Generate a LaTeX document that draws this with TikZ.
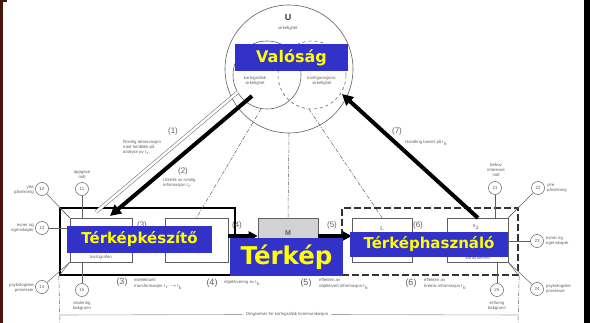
\documentclass[tikz,border=0pt]{standalone}
\usepackage{fontspec}
\setmainfont{Liberation Sans}
\newfontfamily\lblfont{DejaVu Sans}
\usetikzlibrary{arrows.meta}
\definecolor{lblblue}{RGB}{50,50,200}
\definecolor{lblyellow}{RGB}{255,255,0}
\definecolor{ink}{RGB}{95,95,95}
\definecolor{leftbar}{RGB}{70,22,12}
\begin{document}
\begin{tikzpicture}[x=1pt,y=-1pt,
  tiny/.style={font=\fontsize{4.3}{5.2}\selectfont, text=ink, inner sep=0},
  tinyb/.style={font=\fontsize{4.3}{6}\selectfont, text=ink, inner sep=0, align=left, anchor=north west},
  num/.style={font=\fontsize{8}{8}\selectfont, text=ink, inner sep=0},
  numb/.style={font=\fontsize{9}{9}\selectfont, text=ink, inner sep=0},
  numc/.style={circle, draw=ink, line width=0.5pt, minimum size=13pt, inner sep=0, font=\fontsize{4.5}{5}\selectfont, text=ink},
  box/.style={draw=ink, line width=0.6pt, minimum width=#1, minimum height=44pt, inner sep=0},
  thin line/.style={draw=ink, line width=0.5pt},
  dashdot line/.style={draw=ink, line width=0.5pt, dash pattern=on 4pt off 1.5pt on 1pt off 1.5pt},
  big arrow/.style={line width=4pt, -{Triangle[length=11pt,width=11pt]}},
  mid arrow/.style={line width=3.5pt, -{Triangle[length=9pt,width=9pt]}},
  lbl/.style={fill=lblblue, text=lblyellow, inner sep=0, font=\lblfont\bfseries\fontsize{#1}{#1}\selectfont}
]
\path[use as bounding box] (0,0) rectangle (590,323);
% frame strips
\fill[leftbar] (0,0) rectangle (2.5,323);
\fill[leftbar] (0,0) rectangle (7,1.8);
\fill[black] (584,0) rectangle (590,323);

% reality circles
\node[circle, draw=ink, line width=0.6pt, minimum size=128pt, inner sep=0] (U) at (289,69) {};
\node[circle, draw=ink, line width=0.6pt, minimum size=68pt, inner sep=0] (Ul) at (267,75) {};
\node[circle, draw=ink, dashed, line width=0.6pt, minimum size=68pt, inner sep=0] (Ur) at (312,75) {};
\node[font=\bfseries\fontsize{9}{9}\selectfont, text=ink!60!black] (Ut) at (288,17) {U};
\node[tiny] (Uv) at (288,28) {virkelighet};
\node[tiny, align=center] (Ult) at (255,81) {kartografisk\\virkelighet};
\node[tiny, align=center] (Urt) at (322,81) {konfigurasjons-\\virkelighet};

% group frames
\node[draw=black, line width=2.4pt, minimum width=175pt, minimum height=67pt, inner sep=0] (K) at (147.5,241.5) {};
\node[draw=black!80, line width=2.4pt, dash pattern=on 7pt off 3pt, minimum width=176pt, minimum height=67pt, inner sep=0] (H) at (430,241.5) {};

% inner boxes
\node[box=62] (S1) at (101,240) {};
\node[box=63] (B2) at (196.5,240) {};
\node[box=60, fill=gray!35] (M) at (288,240) {};
\node[box=60] (L) at (382,240) {};
\node[box=61] (S2) at (477.5,240) {};
\draw[thin line] (K.north west) -- (S1.north west);
\draw[thin line] (K.south west) -- (S1.south west);
\draw[thin line] (H.north east) -- (S2.north east);
\draw[thin line] (H.south east) -- (S2.south east);
\node[tiny] (S1t) at (101,257) {kartografen};
\node[tiny] (S2t) at (478,258) {kartbrukeren};
\node[tiny] (S2s) at (476,227) {S$_2$};
\node[font=\bfseries\fontsize{7}{7}\selectfont, text=ink] (Mt) at (288,233) {M};
\node[font=\fontsize{6}{6}\selectfont, text=ink] (Lt) at (382,228) {L};

% dashed fan lines
\draw[dashdot line] (Ul.-100) -- (B2.north);
\draw[dashdot line] (U.south) -- (M.north);
\draw[dashdot line] (Ur.-95) -- (L.north);

% map arrows
\draw[mid arrow] ([yshift=4pt]B2.east) -- ([yshift=4pt]M.west);
\draw[mid arrow] ([yshift=4pt]M.east) -- ([yshift=4pt]L.west);
\node[num] (p3t) at (142,225) {(3)};
\node[num] (p4t) at (237,225) {(4)};
\node[num] (p5t) at (332,225) {(5)};
\node[num] (p6t) at (418,225) {(6)};

% big arrows
\coordinate (a1s) at (238,92);
\coordinate (a1e) at (96,212);
\draw[draw=ink, line width=0.5pt, double=white, double distance=2.5pt] (a1s) -- (a1e);
\coordinate (a2s) at (252,96);
\coordinate (a2e) at (110,216);
\draw[big arrow] (a2s) -- (a2e);
\coordinate (a7s) at (478,218);
\coordinate (a7e) at (342,94);
\draw[big arrow] (a7s) -- (a7e);

% arrow labels
\node[num] (l1) at (173,131) {(1)};
\node[tiny, align=left, anchor=north west] (t1) at (123,140) {Romlig observasjon\\med henblikk på\\analyse av I$_r$};
\node[num] (l2) at (183,171) {(2)};
\node[tiny, align=left, anchor=north west] (t2) at (163,178) {Uttrekk av romlig\\informasjon I$_r$};
\node[num] (l7) at (397,131) {(7)};
\node[tiny, anchor=west] (t7) at (405,143) {Handling basert på I$_k$};

% bottom labels
\node[numb] (b3) at (122,282) {(3)};
\node[tinyb] (b3t) at (134,278.5) {intellektuell\\transformasjon I$_r$\,$\to$\,I$_k$};
\node[numb] (b4) at (212,283) {(4)};
\node[tiny, anchor=west] (b4t) at (224,283) {objektivering av I$_k$};
\node[numb] (b5) at (306,283) {(5)};
\node[tinyb] (b5t) at (319,278.5) {effekten av\\objektivert informasjon I$_k$};
\node[numb] (b6) at (411,283) {(6)};
\node[tinyb] (b6t) at (424,278.5) {effekten av\\kreativ informasjon I$_k$};

% environment frame
\coordinate (eL) at (60,323);
\coordinate (eR) at (518,323);
\coordinate (hL) at (60,315);
\coordinate (hR) at (518,315);
\draw[dashdot line] (K.south west) -- (eL);
\draw[dashdot line] (H.south east) -- (eR);
\node[tiny, fill=white, inner xsep=3pt, inner ysep=1pt] (env) at (287,314.5) {Omgivelser for kartografisk kommunikasjon};
\draw[draw=gray!70, line width=0.6pt] (hL) -- (env.west);
\draw[draw=gray!70, line width=0.6pt] (env.east) -- (hR);

% numbered factors, cartographer
\node[numc] (n12) at (42,189) {12};
\node[tiny, align=right, anchor=east] (n12t) at (34,190) {ytre\\påvirkning};
\node[numc] (n11) at (82,189) {11};
\node[tiny, align=center] (n11t) at (82,175) {oppgave\\mål};
\node[numc] (n13) at (42,228) {13};
\node[tiny, align=right, anchor=east] (n13t) at (34,228) {evner og\\egenskaper};
\node[numc] (n14) at (42,287) {14};
\node[tiny, align=right, anchor=east] (n14t) at (34,288) {psykologiske\\prosesser};
\node[numc] (n15) at (82,290) {15};
\node[tiny, align=center] (n15t) at (82,306) {skolering\\bakgrunn};
\draw[thin line] (n12) -- (S1.north west);
\draw[thin line] (n11) -- (n11 |- S1.north);
\draw[thin line] (n13) -- (n13 -| S1.west);
\draw[thin line] (n14) -- (S1.south west);
\draw[thin line] (n15) -- (n15 |- S1.south);

% numbered factors, map user
\node[numc] (n21) at (495,188) {21};
\node[tiny, align=center] (n21t) at (496,170) {behov\\interesse\\mål};
\node[numc] (n22) at (538,188) {22};
\node[tiny, align=left, anchor=west] (n22t) at (547,188) {ytre\\påvirkning};
\node[numc] (n23) at (537,241) {23};
\node[tiny, align=left, anchor=west] (n23t) at (546,241) {evner og\\egenskaper};
\node[numc] (n24) at (537,289) {24};
\node[tiny, align=left, anchor=west] (n24t) at (546,289) {psykologiske\\prosesser};
\node[numc] (n25) at (497,290) {25};
\node[tiny, align=center] (n25t) at (497,306) {erfaring\\bakgrunn};
\draw[thin line] (n21) -- (n21 |- S2.north);
\draw[thin line] (n22) -- (S2.north east);
\draw[thin line] (n23) -- (n23 -| S2.east);
\draw[thin line] (n24) -- (S2.south east);
\draw[thin line] (n25) -- (n25 |- S2.south);

% Hungarian overlay labels
\node[lbl=16, minimum width=113pt, minimum height=27pt] (val) at (291.5,57.5) {Valóság};
\node[lbl=15, minimum width=145pt, minimum height=27pt] (tk) at (139.5,239.5) {Térképkészítő};
\node[lbl=24.5, minimum width=113pt, minimum height=38pt] (tkp) at (286.5,257) {Térkép};
\node[lbl=15, minimum width=158pt, minimum height=25pt] (th) at (429,244.5) {Térképhasználó};
\end{tikzpicture}
\end{document}
